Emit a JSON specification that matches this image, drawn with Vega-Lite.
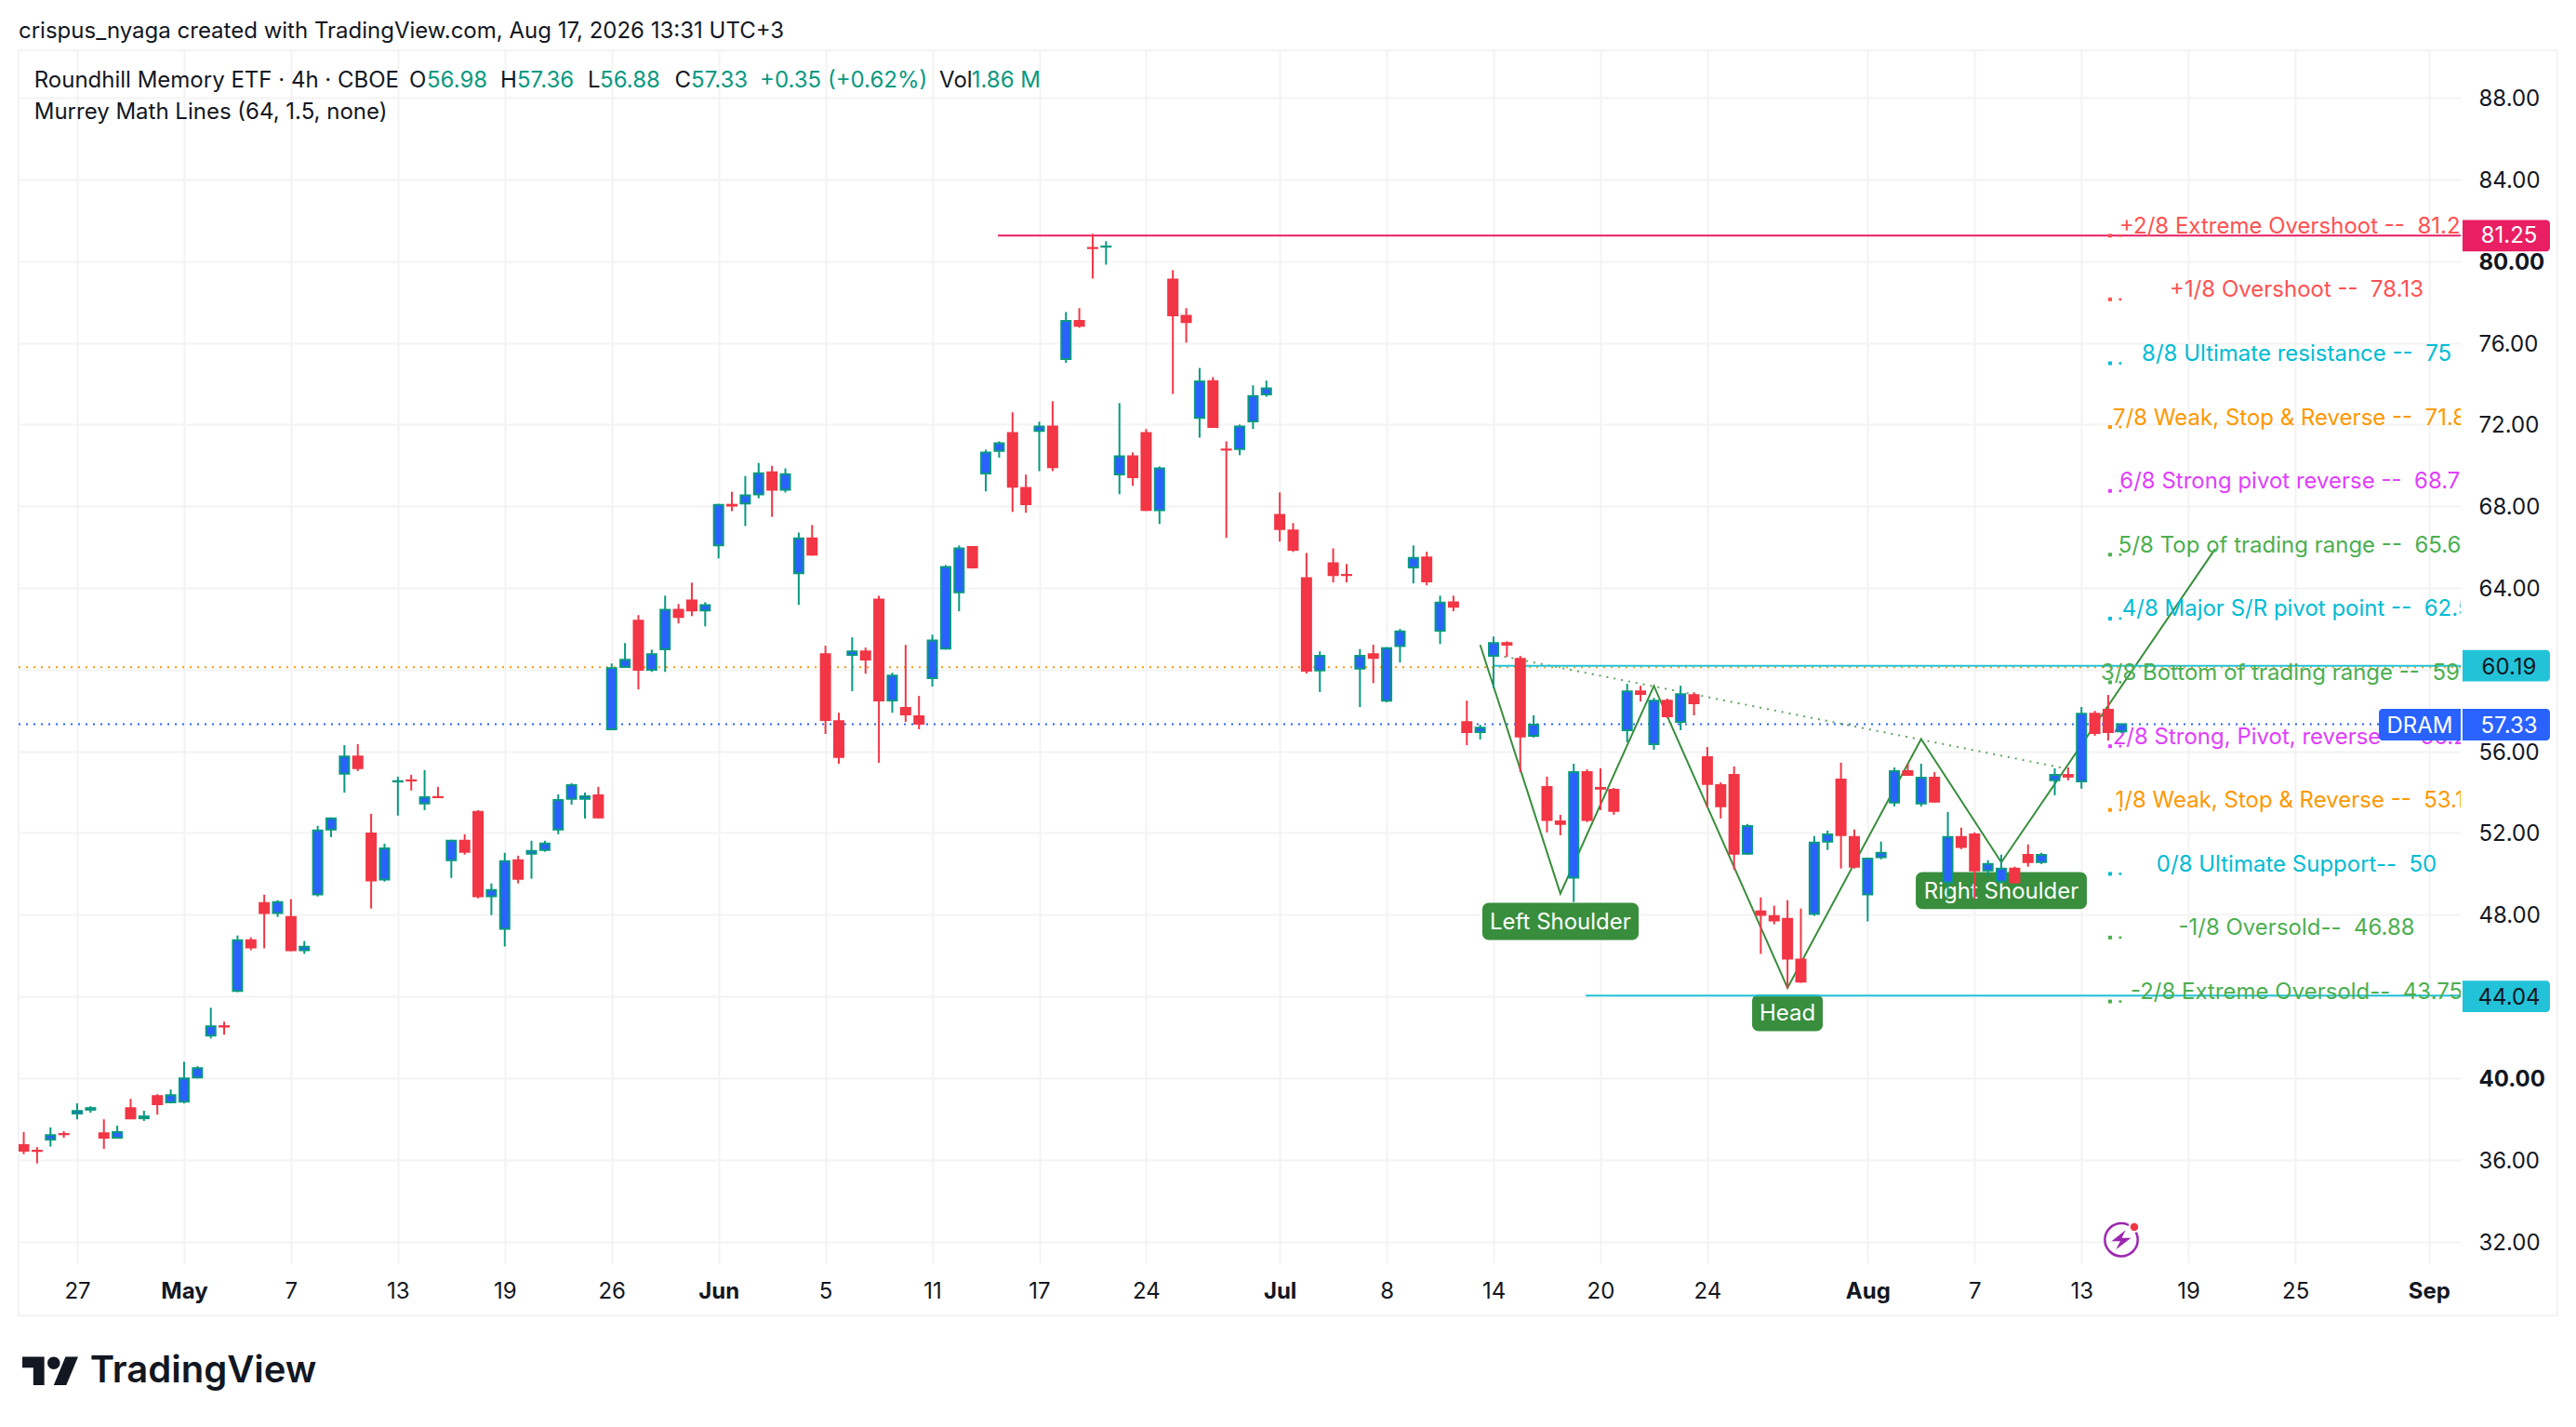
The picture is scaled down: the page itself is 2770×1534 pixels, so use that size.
{
  "$schema": "https://vega.github.io/schema/vega-lite/v6.json",
  "description": "Roundhill Memory ETF 4h candles with Murrey Math levels and a head and shoulders drawing",
  "width": 2626,
  "height": 1304,
  "autosize": {"type": "none"},
  "padding": {"left": 20, "top": 54, "right": 124, "bottom": 176},
  "background": "#ffffff",
  "config": {
    "view": {"stroke": null},
    "font": "Inter",
    "text": {"font": "Inter"},
    "axis": {"labelFont": "Inter", "labelFontSize": 24, "labelColor": "#131722", "gridColor": "#f3f3f4", "gridWidth": 2, "domain": false, "ticks": false}
  },
  "datasets": {
    "candles": [
      {"bar":-4,"open":36.71,"high":37.35,"low":36.27,"close":36.44},
      {"bar":-3,"open":36.44,"high":36.62,"low":35.82,"close":36.43},
      {"bar":-2,"open":36.99,"high":37.58,"low":36.64,"close":37.21},
      {"bar":-1,"open":37.26,"high":37.4,"low":37.08,"close":37.25},
      {"bar":0,"open":38.26,"high":38.76,"low":37.98,"close":38.39},
      {"bar":1,"open":38.45,"high":38.62,"low":38.3,"close":38.53},
      {"bar":2,"open":37.3,"high":37.98,"low":36.53,"close":37.08},
      {"bar":3,"open":37.08,"high":37.67,"low":37.03,"close":37.35},
      {"bar":4,"open":38.53,"high":38.98,"low":37.98,"close":38.03},
      {"bar":5,"open":38.03,"high":38.4,"low":37.9,"close":38.12},
      {"bar":6,"open":39.12,"high":39.21,"low":38.21,"close":38.72},
      {"bar":7,"open":38.81,"high":39.44,"low":38.76,"close":39.16},
      {"bar":8,"open":38.85,"high":40.8,"low":38.76,"close":39.98},
      {"bar":9,"open":40.03,"high":40.58,"low":39.98,"close":40.48},
      {"bar":10,"open":42.08,"high":43.44,"low":41.94,"close":42.53},
      {"bar":11,"open":42.54,"high":42.76,"low":42.12,"close":42.52},
      {"bar":12,"open":44.26,"high":46.98,"low":44.21,"close":46.75},
      {"bar":13,"open":46.75,"high":46.89,"low":46.26,"close":46.4},
      {"bar":14,"open":48.57,"high":48.98,"low":46.35,"close":48.08},
      {"bar":15,"open":48.08,"high":48.71,"low":47.89,"close":48.62},
      {"bar":16,"open":47.89,"high":48.76,"low":46.21,"close":46.26},
      {"bar":17,"open":46.26,"high":46.71,"low":46.08,"close":46.43},
      {"bar":18,"open":48.99,"high":52.35,"low":48.89,"close":52.12},
      {"bar":19,"open":52.17,"high":52.76,"low":51.8,"close":52.71},
      {"bar":20,"open":54.9,"high":56.3,"low":53.98,"close":55.75},
      {"bar":21,"open":55.75,"high":56.35,"low":55.03,"close":55.17},
      {"bar":22,"open":51.98,"high":52.94,"low":48.3,"close":49.67},
      {"bar":23,"open":49.72,"high":51.48,"low":49.62,"close":51.25},
      {"bar":24,"open":54.52,"high":54.76,"low":52.85,"close":54.54},
      {"bar":25,"open":54.58,"high":54.85,"low":54.08,"close":54.57},
      {"bar":26,"open":53.44,"high":55.08,"low":53.12,"close":53.75},
      {"bar":27,"open":53.76,"high":54.26,"low":53.71,"close":53.75},
      {"bar":28,"open":50.67,"high":51.67,"low":49.8,"close":51.62},
      {"bar":29,"open":51.62,"high":51.94,"low":50.94,"close":51.08},
      {"bar":30,"open":53.03,"high":53.12,"low":48.8,"close":48.9},
      {"bar":31,"open":48.9,"high":49.53,"low":47.98,"close":49.21},
      {"bar":32,"open":47.31,"high":51.03,"low":46.44,"close":50.62},
      {"bar":33,"open":50.66,"high":50.89,"low":49.53,"close":49.76},
      {"bar":34,"open":50.99,"high":51.62,"low":49.76,"close":51.12},
      {"bar":35,"open":51.17,"high":51.62,"low":51.08,"close":51.48},
      {"bar":36,"open":52.17,"high":53.89,"low":51.94,"close":53.62},
      {"bar":37,"open":53.67,"high":54.44,"low":53.39,"close":54.34},
      {"bar":38,"open":53.67,"high":53.98,"low":52.71,"close":53.8},
      {"bar":39,"open":53.84,"high":54.26,"low":52.71,"close":52.76},
      {"bar":40,"open":57.08,"high":60.3,"low":57.03,"close":60.07},
      {"bar":41,"open":60.13,"high":61.3,"low":60.08,"close":60.48},
      {"bar":42,"open":62.39,"high":62.67,"low":59.03,"close":59.99},
      {"bar":43,"open":59.99,"high":60.98,"low":59.89,"close":60.75},
      {"bar":44,"open":60.99,"high":63.62,"low":59.89,"close":62.93},
      {"bar":45,"open":62.93,"high":63.21,"low":62.26,"close":62.58},
      {"bar":46,"open":63.39,"high":64.26,"low":62.62,"close":62.9},
      {"bar":47,"open":62.9,"high":63.3,"low":62.12,"close":63.16},
      {"bar":48,"open":66.08,"high":68.12,"low":65.44,"close":68.07},
      {"bar":49,"open":68.07,"high":68.71,"low":67.76,"close":68.03},
      {"bar":50,"open":68.13,"high":69.48,"low":67.03,"close":68.53},
      {"bar":51,"open":68.58,"high":70.12,"low":68.39,"close":69.62},
      {"bar":52,"open":69.66,"high":69.98,"low":67.48,"close":68.81},
      {"bar":53,"open":68.81,"high":69.85,"low":68.67,"close":69.57},
      {"bar":54,"open":64.72,"high":66.71,"low":63.17,"close":66.43},
      {"bar":55,"open":66.43,"high":67.08,"low":65.58,"close":65.63},
      {"bar":56,"open":60.75,"high":61.17,"low":56.85,"close":57.53},
      {"bar":57,"open":57.48,"high":57.89,"low":55.39,"close":55.72},
      {"bar":58,"open":60.72,"high":61.58,"low":58.94,"close":60.89},
      {"bar":59,"open":60.89,"high":61.08,"low":59.8,"close":60.49},
      {"bar":60,"open":63.43,"high":63.62,"low":55.44,"close":58.49},
      {"bar":61,"open":58.49,"high":59.85,"low":57.89,"close":59.71},
      {"bar":62,"open":58.12,"high":61.21,"low":57.44,"close":57.81},
      {"bar":63,"open":57.71,"high":58.71,"low":57.08,"close":57.35},
      {"bar":64,"open":59.58,"high":61.71,"low":59.17,"close":61.43},
      {"bar":65,"open":61.03,"high":65.12,"low":60.98,"close":65.03},
      {"bar":66,"open":63.78,"high":66.08,"low":62.86,"close":65.94},
      {"bar":67,"open":66.0,"high":66.05,"low":64.95,"close":65.0},
      {"bar":68,"open":69.6,"high":70.77,"low":68.73,"close":70.63},
      {"bar":69,"open":70.71,"high":71.18,"low":70.38,"close":71.08},
      {"bar":70,"open":71.59,"high":72.6,"low":67.72,"close":68.95},
      {"bar":71,"open":68.9,"high":69.55,"low":67.68,"close":68.1},
      {"bar":72,"open":71.69,"high":72.14,"low":69.72,"close":71.9},
      {"bar":73,"open":71.9,"high":73.14,"low":69.72,"close":69.91},
      {"bar":74,"open":75.21,"high":77.51,"low":75.02,"close":77.08},
      {"bar":75,"open":77.08,"high":77.7,"low":76.74,"close":76.83},
      {"bar":76,"open":80.65,"high":81.34,"low":79.15,"close":80.64},
      {"bar":77,"open":80.71,"high":80.98,"low":79.83,"close":80.72},
      {"bar":78,"open":69.56,"high":73.05,"low":68.59,"close":70.45},
      {"bar":79,"open":70.45,"high":70.64,"low":69.0,"close":69.42},
      {"bar":80,"open":71.59,"high":71.78,"low":67.77,"close":67.82},
      {"bar":81,"open":67.8,"high":69.95,"low":67.13,"close":69.85},
      {"bar":82,"open":79.1,"high":79.56,"low":73.5,"close":77.35},
      {"bar":83,"open":77.32,"high":77.7,"low":76.01,"close":77.02},
      {"bar":84,"open":72.33,"high":74.77,"low":71.36,"close":74.11},
      {"bar":85,"open":74.13,"high":74.32,"low":71.83,"close":71.88},
      {"bar":86,"open":70.78,"high":71.18,"low":66.45,"close":70.77},
      {"bar":87,"open":70.8,"high":72.0,"low":70.5,"close":71.9},
      {"bar":88,"open":72.16,"high":73.92,"low":71.78,"close":73.4},
      {"bar":89,"open":73.48,"high":74.15,"low":73.36,"close":73.77},
      {"bar":90,"open":67.58,"high":68.68,"low":66.27,"close":66.88},
      {"bar":91,"open":66.81,"high":67.18,"low":65.76,"close":65.87},
      {"bar":92,"open":64.48,"high":65.71,"low":59.81,"close":59.95},
      {"bar":93,"open":59.96,"high":60.89,"low":58.9,"close":60.68},
      {"bar":94,"open":65.21,"high":65.94,"low":64.27,"close":64.63},
      {"bar":95,"open":64.64,"high":65.17,"low":64.27,"close":64.63},
      {"bar":96,"open":60.05,"high":61.01,"low":58.17,"close":60.68},
      {"bar":97,"open":60.75,"high":61.22,"low":59.34,"close":60.57},
      {"bar":98,"open":58.48,"high":61.1,"low":58.4,"close":61.05},
      {"bar":99,"open":61.15,"high":61.99,"low":60.35,"close":61.87},
      {"bar":100,"open":65.0,"high":66.08,"low":64.22,"close":65.47},
      {"bar":101,"open":65.49,"high":65.77,"low":64.13,"close":64.32},
      {"bar":102,"open":61.9,"high":63.62,"low":61.25,"close":63.28},
      {"bar":103,"open":63.29,"high":63.62,"low":62.86,"close":63.08},
      {"bar":104,"open":57.43,"high":58.48,"low":56.3,"close":56.94},
      {"bar":105,"open":56.94,"high":57.3,"low":56.58,"close":57.16},
      {"bar":106,"open":60.67,"high":61.62,"low":59.08,"close":61.3},
      {"bar":107,"open":61.3,"high":61.39,"low":60.62,"close":61.22},
      {"bar":108,"open":60.53,"high":60.67,"low":54.98,"close":56.72},
      {"bar":109,"open":56.76,"high":57.76,"low":56.67,"close":57.3},
      {"bar":110,"open":54.25,"high":54.76,"low":52.03,"close":52.63},
      {"bar":111,"open":52.57,"high":52.89,"low":51.89,"close":52.44},
      {"bar":112,"open":49.81,"high":55.39,"low":48.62,"close":54.98},
      {"bar":113,"open":54.98,"high":55.12,"low":52.53,"close":52.63},
      {"bar":114,"open":54.21,"high":55.17,"low":53.12,"close":54.17},
      {"bar":115,"open":54.12,"high":54.21,"low":52.89,"close":53.08},
      {"bar":116,"open":57.03,"high":59.3,"low":56.44,"close":58.93},
      {"bar":117,"open":58.93,"high":59.21,"low":58.44,"close":58.81},
      {"bar":118,"open":56.35,"high":58.62,"low":56.08,"close":58.48},
      {"bar":119,"open":58.48,"high":58.58,"low":57.62,"close":57.72},
      {"bar":120,"open":57.44,"high":59.21,"low":57.03,"close":58.8},
      {"bar":121,"open":58.75,"high":58.89,"low":57.76,"close":58.35},
      {"bar":122,"open":55.71,"high":56.21,"low":53.26,"close":54.4},
      {"bar":123,"open":54.34,"high":54.48,"low":52.71,"close":53.31},
      {"bar":124,"open":54.84,"high":55.26,"low":50.21,"close":50.99},
      {"bar":125,"open":50.99,"high":52.44,"low":50.94,"close":52.34},
      {"bar":126,"open":48.16,"high":48.85,"low":46.08,"close":47.99},
      {"bar":127,"open":47.93,"high":48.44,"low":47.53,"close":47.72},
      {"bar":128,"open":47.8,"high":48.71,"low":44.39,"close":45.85},
      {"bar":129,"open":45.8,"high":48.3,"low":44.67,"close":44.72},
      {"bar":130,"open":48.03,"high":51.85,"low":47.94,"close":51.53},
      {"bar":131,"open":51.58,"high":52.12,"low":51.17,"close":51.93},
      {"bar":132,"open":54.62,"high":55.44,"low":50.26,"close":51.9},
      {"bar":133,"open":51.8,"high":52.17,"low":50.26,"close":50.35},
      {"bar":134,"open":48.99,"high":50.8,"low":47.67,"close":50.75},
      {"bar":135,"open":50.81,"high":51.58,"low":50.71,"close":51.03},
      {"bar":136,"open":53.49,"high":55.21,"low":53.3,"close":55.03},
      {"bar":137,"open":55.03,"high":55.39,"low":54.8,"close":54.85},
      {"bar":138,"open":53.44,"high":55.39,"low":53.3,"close":54.71},
      {"bar":139,"open":54.71,"high":54.98,"low":53.48,"close":53.53},
      {"bar":140,"open":49.58,"high":53.03,"low":48.85,"close":51.8},
      {"bar":141,"open":51.8,"high":52.26,"low":51.21,"close":51.31},
      {"bar":142,"open":51.93,"high":52.03,"low":48.77,"close":50.17},
      {"bar":143,"open":50.17,"high":50.67,"low":49.89,"close":50.48},
      {"bar":144,"open":49.63,"high":50.94,"low":49.53,"close":50.25},
      {"bar":145,"open":50.25,"high":50.35,"low":49.53,"close":49.58},
      {"bar":146,"open":50.93,"high":51.44,"low":50.35,"close":50.58},
      {"bar":147,"open":50.58,"high":51.03,"low":50.48,"close":50.93},
      {"bar":148,"open":54.58,"high":55.17,"low":53.85,"close":54.84},
      {"bar":149,"open":54.84,"high":55.21,"low":54.58,"close":54.76},
      {"bar":150,"open":54.53,"high":58.17,"low":54.17,"close":57.84},
      {"bar":151,"open":57.84,"high":57.98,"low":56.76,"close":56.9},
      {"bar":152,"open":58.03,"high":58.76,"low":56.53,"close":56.94},
      {"bar":153,"open":56.98,"high":57.36,"low":56.88,"close":57.33}
    ],
    "levels": [
      {"bar":166.1,"price":81.25,"label":"+2/8 Extreme Overshoot -- \u00a081.25","tone":"coral"},
      {"bar":166.1,"price":78.13,"label":"+1/8 Overshoot -- \u00a078.13","tone":"coral"},
      {"bar":166.1,"price":75,"label":"8/8 Ultimate resistance -- \u00a075","tone":"cyan"},
      {"bar":166.1,"price":71.88,"label":"7/8 Weak, Stop & Reverse -- \u00a071.88","tone":"orange"},
      {"bar":166.1,"price":68.75,"label":"6/8 Strong pivot reverse -- \u00a068.75","tone":"violet"},
      {"bar":166.1,"price":65.63,"label":"5/8 Top of trading range -- \u00a065.63","tone":"leaf"},
      {"bar":166.1,"price":62.5,"label":"4/8 Major S/R pivot point -- \u00a062.5","tone":"cyan"},
      {"bar":166.1,"price":59.38,"label":"3/8 Bottom of trading range -- \u00a059.38","tone":"leaf"},
      {"bar":166.1,"price":56.25,"label":"2/8 Strong, Pivot, reverse -- \u00a056.25","tone":"violet"},
      {"bar":166.1,"price":53.13,"label":"1/8 Weak, Stop & Reverse -- \u00a053.13","tone":"orange"},
      {"bar":166.1,"price":50,"label":"0/8 Ultimate Support-- \u00a050","tone":"cyan"},
      {"bar":166.1,"price":46.88,"label":"-1/8 Oversold-- \u00a046.88","tone":"leaf"},
      {"bar":166.1,"price":43.75,"label":"-2/8 Extreme Oversold-- \u00a043.75","tone":"leaf"}
    ],
    "header": [
      {"bar":-4.385,"price":91.33,"label":"crispus_nyaga created with TradingView.com, Aug 17, 2026 13:31 UTC+3","tone":"ink"},
      {"bar":-3.22,"price":88.89,"label":"Roundhill Memory ETF · 4h · CBOE","tone":"ink"},
      {"bar":24.85,"price":88.89,"label":"O","tone":"ink"},
      {"bar":26.17,"price":88.89,"label":"56.98","tone":"up"},
      {"bar":31.67,"price":88.89,"label":"H","tone":"ink"},
      {"bar":32.92,"price":88.89,"label":"57.36","tone":"up"},
      {"bar":38.21,"price":88.89,"label":"L","tone":"ink"},
      {"bar":39.12,"price":88.89,"label":"56.88","tone":"up"},
      {"bar":44.72,"price":88.89,"label":"C","tone":"ink"},
      {"bar":45.94,"price":88.89,"label":"57.33","tone":"up"},
      {"bar":51.09,"price":88.89,"label":"+0.35 (+0.62%)","tone":"up"},
      {"bar":64.52,"price":88.89,"label":"Vol","tone":"ink"},
      {"bar":66.93,"price":88.89,"label":"1.86 M","tone":"up"},
      {"bar":-3.22,"price":87.34,"label":"Murrey Math Lines (64, 1.5, none)","tone":"ink"}
    ],
    "lines": [
      {"bar":68.9,"bar2":178.38,"price":81.25,"tone":"pink"},
      {"bar":106,"bar2":178.38,"price":60.19,"tone":"teal"},
      {"bar":112.9,"bar2":178.38,"price":44.04,"tone":"teal"}
    ],
    "dotted": [
      {"bar":-4.385,"bar2":178.38,"price":60.12,"tone":"orange"},
      {"bar":-4.385,"bar2":172.26,"price":57.33,"tone":"blue"}
    ],
    "zigzag": [
      {"bar":105,"price":61.21},
      {"bar":111,"price":49.03},
      {"bar":118,"price":59.2},
      {"bar":128,"price":44.42},
      {"bar":138,"price":56.6},
      {"bar":144,"price":50.56},
      {"bar":160,"price":65.91}
    ],
    "neckline": [
      {"bar":106.8,"price":60.64},
      {"bar":148.5,"price":55.2}
    ],
    "callouts": [
      {"bar":105.16,"bar2":116.86,"mid":111,"price":48.58,"price2":46.76,"center":47.67,"label":"Left Shoulder"},
      {"bar":125.35,"bar2":130.64,"mid":128,"price":44.09,"price2":42.29,"center":43.19,"label":"Head"},
      {"bar":137.6,"bar2":150.4,"mid":144,"price":50.08,"price2":48.27,"center":49.17,"label":"Right Shoulder"}
    ],
    "tags": [
      {"bar":178.52,"bar2":185.06,"mid":182,"price":82.02,"price2":80.48,"center":81.27,"label":"81.25","tone":"pink","ink":"paper"},
      {"bar":178.52,"bar2":185.06,"mid":182,"price":60.96,"price2":59.42,"center":60.17,"label":"60.19","tone":"teal","ink":"ink"},
      {"bar":178.52,"bar2":185.06,"mid":182,"price":58.08,"price2":56.53,"center":57.3,"label":"57.33","tone":"blue","ink":"paper"},
      {"bar":178.52,"bar2":185.06,"mid":182,"price":44.77,"price2":43.23,"center":44.0,"label":"44.04","tone":"teal","ink":"ink"}
    ],
    "symbol": [
      {"bar":172.26,"bar2":178.38,"mid":175.32,"price":58.08,"price2":56.53,"center":57.3,"label":"DRAM","tone":"blue","ink":"paper"}
    ],
    "frame": [
      {"bar":-4.385,"bar2":185.6,"price":90.33,"price2":28.37}
    ],
    "footer": [
      {"bar":0.95,"price":25.64,"label":"TradingView"}
    ],
    "logo": [
      {"bar":-2.02,"price":25.66}
    ],
    "ring": [
      {"bar":152.98,"price":32.08}
    ],
    "alert": [
      {"bar":153.95,"price":32.71}
    ]
  },
  "encoding": {
    "x": {
      "field": "bar",
      "type": "quantitative",
      "title": null,
      "scale": {"domain": [-4.385, 178.38], "nice": false, "zero": false, "padding": 0},
      "axis": {
        "values": [0, 8, 16, 24, 32, 40, 48, 56, 64, 72, 80, 90, 98, 106, 114, 122, 134, 142, 150, 158, 166, 176],
        "labelExpr": "{'0':'27','8':'May','16':'7','24':'13','32':'19','40':'26','48':'Jun','56':'5','64':'11','72':'17','80':'24','90':'Jul','98':'8','106':'14','114':'20','122':'24','134':'Aug','142':'7','150':'13','158':'19','166':'25','176':'Sep'}[datum.value]",
        "labelFontWeight": {"condition": {"test": "datum.value==8||datum.value==48||datum.value==90||datum.value==134||datum.value==176", "value": 700}, "value": 400},
        "labelPadding": 18,
        "labelOverlap": false,
        "labelFlush": false,
        "grid": true
      }
    },
    "y": {
      "field": "price",
      "type": "quantitative",
      "title": null,
      "scale": {"domain": [30.93, 90.33], "nice": false, "zero": false},
      "axis": {
        "orient": "right",
        "values": [32, 36, 40, 44, 48, 52, 56, 60, 64, 68, 72, 76, 80, 84, 88],
        "format": ".2f",
        "labelFontWeight": {"condition": {"test": "datum.value==40||datum.value==80", "value": 700}, "value": 400},
        "labelPadding": 19,
        "labelOffset": 1.5,
        "labelOverlap": false,
        "labelFlush": false,
        "grid": true
      }
    }
  },
  "layer": [
    {
      "data": {"name": "frame"},
      "mark": {"type": "rect", "filled": false, "stroke": "#f3f3f4", "strokeWidth": 2},
      "encoding": {"x2": {"field": "bar2"}, "y2": {"field": "price2"}}
    },
    {
      "data": {"name": "dotted"},
      "mark": {"type": "rule", "strokeWidth": 2, "strokeDash": [2, 6]},
      "encoding": {
        "x2": {"field": "bar2"},
        "color": {
          "field": "tone",
          "type": "nominal",
          "legend": null,
          "scale": {
            "domain": ["ink", "up", "paper", "pink", "teal", "blue", "orange", "coral", "cyan", "violet", "leaf"],
            "range": ["#131722", "#089981", "#ffffff", "#e91e63", "#22c3d8", "#2962ff", "#ff9800", "#ff5252", "#00bcd4", "#e040fb", "#4caf50"]
          }
        }
      }
    },
    {
      "data": {"name": "neckline"},
      "mark": {"type": "line", "color": "#388e3c", "strokeWidth": 2, "strokeDash": [2, 6], "opacity": 0.8},
      "encoding": {}
    },
    {
      "data": {"name": "zigzag"},
      "mark": {"type": "line", "color": "#388e3c", "strokeWidth": 2},
      "encoding": {}
    },
    {
      "data": {"name": "callouts"},
      "mark": {"type": "rect", "color": "#388e3c", "cornerRadius": 7},
      "encoding": {"x2": {"field": "bar2"}, "y2": {"field": "price2"}}
    },
    {
      "data": {"name": "lines"},
      "mark": {"type": "rule", "strokeWidth": 2},
      "encoding": {
        "x2": {"field": "bar2"},
        "color": {"field": "tone", "type": "nominal", "legend": null}
      }
    },
    {
      "data": {"name": "levels"},
      "mark": {"type": "point", "shape": "square", "filled": true, "size": 16, "opacity": 1},
      "encoding": {
        "x": {"datum": 152.14, "type": "quantitative", "title": null},
        "color": {"field": "tone", "type": "nominal", "legend": null}
      }
    },
    {
      "data": {"name": "levels"},
      "mark": {"type": "point", "shape": "square", "filled": true, "size": 7, "opacity": 1},
      "encoding": {
        "x": {"datum": 152.9, "type": "quantitative", "title": null},
        "color": {"field": "tone", "type": "nominal", "legend": null}
      }
    },
    {
      "data": {"name": "levels"},
      "mark": {"type": "text", "fontSize": 24, "align": "center", "baseline": "middle", "dy": -9.5, "clip": true},
      "encoding": {
        "text": {"field": "label"},
        "color": {"field": "tone", "type": "nominal", "legend": null}
      }
    },
    {
      "data": {"name": "callouts"},
      "mark": {"type": "text", "fontSize": 24, "align": "center", "baseline": "middle", "dy": 1.5, "color": "#ffffff"},
      "encoding": {
        "x": {"field": "mid", "type": "quantitative", "title": null},
        "y": {"field": "center", "type": "quantitative", "title": null, "axis": {"orient": "right"}},
        "text": {"field": "label"}
      }
    },
    {
      "data": {"name": "candles"},
      "mark": {"type": "rule", "strokeWidth": 2, "clip": true},
      "encoding": {
        "y": {"field": "high", "type": "quantitative", "title": null, "axis": {"orient": "right"}},
        "y2": {"field": "low"},
        "color": {"condition": {"test": "datum.close >= datum.open", "value": "#089981"}, "value": "#f23645"}
      }
    },
    {
      "data": {"name": "candles"},
      "mark": {"type": "bar", "size": 10, "strokeWidth": 2, "clip": true},
      "encoding": {
        "y": {"field": "open", "type": "quantitative", "title": null, "axis": {"orient": "right"}},
        "y2": {"field": "close"},
        "fill": {"condition": {"test": "datum.close >= datum.open", "value": "#2962ff"}, "value": "#f23645"},
        "stroke": {"condition": {"test": "datum.close >= datum.open", "value": "#089981"}, "value": "#f23645"}
      }
    },
    {
      "data": {"name": "tags"},
      "mark": {"type": "rect", "cornerRadiusTopRight": 4, "cornerRadiusBottomRight": 4},
      "encoding": {
        "x2": {"field": "bar2"},
        "y2": {"field": "price2"},
        "color": {"field": "tone", "type": "nominal", "legend": null}
      }
    },
    {
      "data": {"name": "tags"},
      "mark": {"type": "text", "fontSize": 24, "align": "center", "baseline": "middle", "dy": 1.5},
      "encoding": {
        "x": {"field": "mid", "type": "quantitative", "title": null},
        "y": {"field": "center", "type": "quantitative", "title": null, "axis": {"orient": "right"}},
        "text": {"field": "label"},
        "color": {"field": "ink", "type": "nominal", "legend": null}
      }
    },
    {
      "data": {"name": "symbol"},
      "mark": {"type": "rect", "cornerRadiusTopLeft": 4, "cornerRadiusBottomLeft": 4},
      "encoding": {
        "x2": {"field": "bar2"},
        "y2": {"field": "price2"},
        "color": {"field": "tone", "type": "nominal", "legend": null}
      }
    },
    {
      "data": {"name": "symbol"},
      "mark": {"type": "text", "fontSize": 24, "align": "center", "baseline": "middle", "dy": 1.5},
      "encoding": {
        "x": {"field": "mid", "type": "quantitative", "title": null},
        "y": {"field": "center", "type": "quantitative", "title": null, "axis": {"orient": "right"}},
        "text": {"field": "label"},
        "color": {"field": "ink", "type": "nominal", "legend": null}
      }
    },
    {
      "data": {"name": "header"},
      "mark": {"type": "text", "fontSize": 24, "align": "left", "baseline": "middle", "dy": 1.5},
      "encoding": {
        "text": {"field": "label"},
        "color": {"field": "tone", "type": "nominal", "legend": null}
      }
    },
    {
      "data": {"name": "footer"},
      "mark": {"type": "text", "fontSize": 40, "fontWeight": 600, "align": "left", "baseline": "middle", "color": "#131722"},
      "encoding": {"text": {"field": "label"}}
    },
    {
      "data": {"name": "logo"},
      "mark": {
        "type": "point",
        "filled": true,
        "opacity": 1,
        "color": "#131722",
        "size": 3600,
        "shape": "M-0.211 0.507H-0.606V-0.113H-1V-0.507H-0.211Z M0.577 0.507H0.127L0.549 -0.507H1Z M-0.098 -0.282a0.225 0.225 0 1 0 0.45 0a0.225 0.225 0 1 0 -0.45 0Z"
      },
      "encoding": {}
    },
    {
      "data": {"name": "ring"},
      "mark": {"type": "point", "shape": "circle", "filled": false, "opacity": 1, "stroke": "#9c27b0", "strokeWidth": 2.5, "size": 1250},
      "encoding": {}
    },
    {
      "data": {"name": "ring"},
      "mark": {
        "type": "point",
        "filled": true,
        "opacity": 1,
        "color": "#9c27b0",
        "size": 440,
        "shape": "M0.45 -1L-1 0.15H-0.1L-0.55 1L1 -0.2H0.05Z"
      },
      "encoding": {}
    },
    {
      "data": {"name": "alert"},
      "mark": {"type": "point", "shape": "circle", "filled": true, "opacity": 1, "color": "#f23645", "stroke": "#ffffff", "strokeWidth": 2, "size": 110},
      "encoding": {}
    }
  ]
}
